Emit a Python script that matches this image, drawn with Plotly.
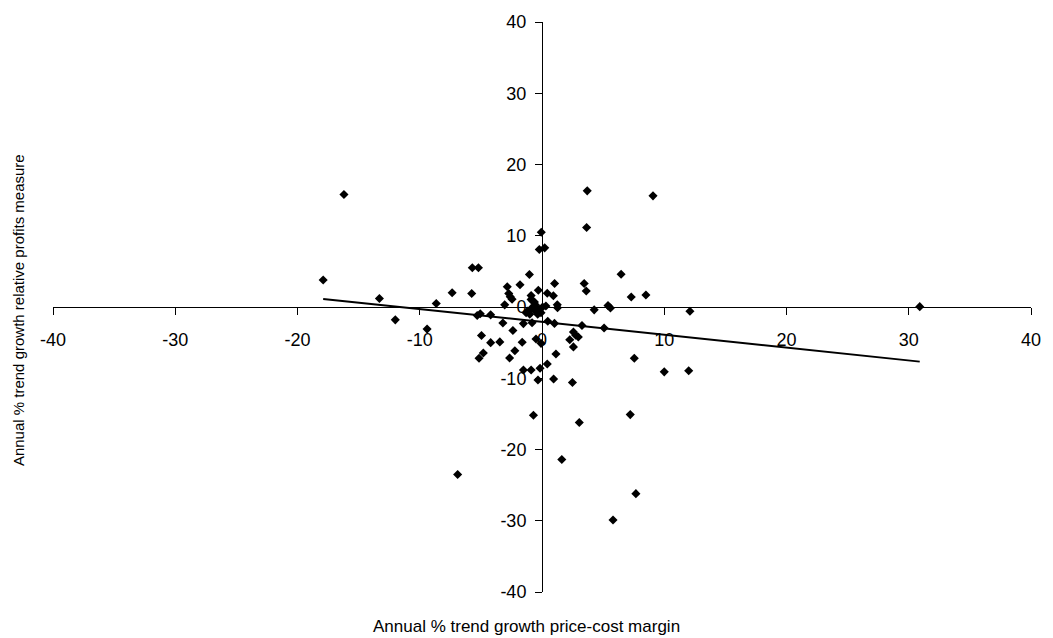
import numpy as np
import plotly.graph_objects as go

# Annual % trend growth price-cost margin (x) and relative profits measure (y)
margin_growth = [
    -17.9, -16.2, -13.3, -12.0, -9.4, -8.65, -7.35, -6.9, -5.7, -5.2,
    -5.75, -5.3, -5.05, -4.2, -4.95, -4.2, -3.45, -4.8, -5.15, -3.2,
    -2.38, -2.65, -2.22, -1.62, -1.52, -0.81, -1.3, -1.0, -0.49, -0.08,
    -1.52, -0.89, -0.16, 0.43, 1.14, -0.33, 0.95, 2.49, -0.7, 3.05,
    1.62, 7.68, 5.81, 7.22, 7.55, 10.0, 12.0, 2.27, 2.57, 2.57,
    2.76, 2.97, 3.27, 5.08, 0.47, 1.02, 4.27, 5.4, 5.6, 12.1,
    30.9, 7.3, 8.5, 6.47, 3.45, 3.62, 1.03, 3.7, 3.65, 9.08,
    -0.06, -0.22, 0.22, -1.03, -2.84, -1.8, -2.72, -2.6, -2.45, -3.05,
    -0.89, -0.3, 0.43, 0.93, 1.25, 1.27, -0.62, -0.55, -0.5, -0.55,
    -0.89, -1.16, -0.22, 0.05, 0.32, -0.35, -0.08, -0.89, -0.76,
]
profits_growth = [
    3.8, 15.8, 1.2, -1.8, -3.1, 0.5, 2.0, -23.5, 5.5, 5.5,
    1.9, -1.2, -0.95, -1.1, -4.0, -5.0, -4.9, -6.45, -7.2, -2.25,
    -3.3, -7.15, -6.15, -4.95, -2.33, -2.2, -0.8, -1.0, -4.5, -5.1,
    -8.85, -8.85, -8.6, -8.0, -6.6, -10.25, -10.1, -10.6, -15.2, -16.2,
    -21.4, -26.2, -29.9, -15.1, -7.2, -9.1, -8.95, -4.6, -5.6, -3.5,
    -3.96, -4.2, -2.6, -2.95, -2.0, -2.3, -0.4, 0.2, -0.15, -0.6,
    0.05, 1.4, 1.68, 4.6, 3.3, 2.24, 3.3, 16.3, 11.15, 15.6,
    10.5, 8.07, 8.3, 4.57, 2.84, 3.12, 1.9, 1.45, 1.1, 0.3,
    1.6, 2.35, 1.92, 1.58, 0.3, -0.1, 0.7, 0.3, -0.1, -0.55,
    -0.23, -0.56, -0.33, 0.0, 0.14, -1.02, -0.8, 1.07, 0.84,
]

axis_ticks = [-40, -30, -20, -10, 0, 10, 20, 30, 40]
x_title = "Annual % trend growth price-cost margin"
y_title = "Annual % trend growth relative profits measure"

xs = np.array(margin_growth)
ys = np.array(profits_growth)
slope, intercept = np.polyfit(xs, ys, 1)
trend_x = np.array([xs.min(), xs.max()])
trend_y = slope * trend_x + intercept

FONT = "Liberation Sans, Arial, sans-serif"

fig = go.Figure()
fig.add_trace(go.Scatter(
    x=margin_growth, y=profits_growth, mode="markers",
    marker=dict(symbol="diamond", size=7, color="black", line=dict(width=0)),
    showlegend=False, hoverinfo="x+y",
))
fig.add_trace(go.Scatter(
    x=trend_x, y=trend_y, mode="lines",
    line=dict(color="black", width=2), showlegend=False, hoverinfo="skip",
))

axis_common = dict(
    range=[-40, 40], tickmode="array", tickvals=axis_ticks,
    ticktext=[str(t) for t in axis_ticks],
    showgrid=False, zeroline=False, showline=True, linecolor="black",
    linewidth=1, ticks="outside", ticklen=7, tickwidth=1, tickcolor="black",
    tickfont=dict(family=FONT, size=18, color="black"),
    anchor="free", position=0.5, fixedrange=True,
)

fig.update_layout(
    width=1053, height=638,
    margin=dict(l=53, r=14, t=20, b=46),
    paper_bgcolor="white", plot_bgcolor="white",
    xaxis=dict(**axis_common, ticklabelstandoff=9),
    yaxis=dict(**axis_common, ticklabelstandoff=5),
    font=dict(family=FONT, size=16, color="black"),
    annotations=[
        dict(text=x_title, xref="paper", yref="paper", x=0.4838, y=-0.061,
             xanchor="center", yanchor="middle", showarrow=False,
             font=dict(family=FONT, size=17, color="black")),
        dict(text=y_title, xref="paper", yref="paper", x=-0.0345, y=0.495,
             xanchor="center", yanchor="middle", showarrow=False, textangle=-90,
             font=dict(family=FONT, size=15, color="black")),
    ],
)

fig.write_html("out.html", config={"displayModeBar": False},
               post_script="document.body.style.margin='0';")
